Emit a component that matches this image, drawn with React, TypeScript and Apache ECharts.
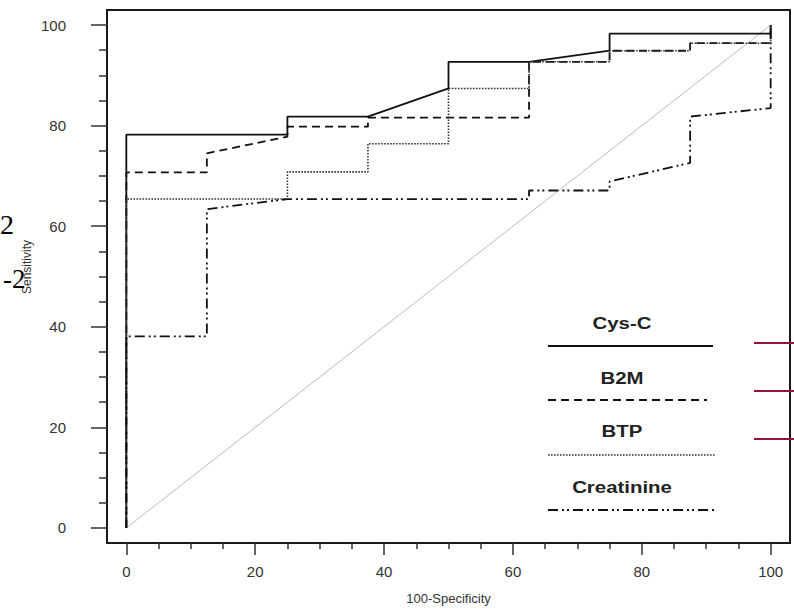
import React, { useEffect, useRef } from "react";
import * as echarts from "echarts";

// ---- data ----
const xMajorTicks = [0, 20, 40, 60, 80, 100];
const xMinorTicks = [5, 10, 15, 25, 30, 35, 45, 50, 55, 65, 70, 75, 85, 90, 95];
const yMajorTicks = [0, 20, 40, 60, 80, 100];
const yMinorTicks = [5, 10, 15, 25, 30, 35, 45, 50, 55, 65, 70, 75, 85, 90, 95];

const seriesNames = ["Cys-C", "B2M", "BTP", "Creatinine"];

const cysC = [
  [0, 0], [0, 78.2], [25, 78.2], [25, 81.8], [37.5, 81.8], [50, 87.4], [50, 92.7],
  [62.5, 92.7], [75, 94.9], [75, 98.3], [100, 98.3], [100, 100],
];
const b2m = [
  [0, 0], [0, 70.7], [12.5, 70.7], [12.5, 74.5], [25, 77.8], [25, 79.8], [37.5, 79.8],
  [37.5, 81.6], [62.5, 81.6], [62.5, 92.7], [75, 92.7], [75, 94.9], [87.5, 94.9],
  [87.5, 96.4], [100, 96.4], [100, 100],
];
const btp = [
  [0, 0], [0, 65.4], [25, 65.4], [25, 70.8], [37.5, 70.8], [37.5, 76.4], [50, 76.4],
  [50, 87.4], [62.5, 87.4], [62.5, 92.7], [75, 92.7], [75, 94.9], [87.5, 94.9],
  [87.5, 96.4], [100, 96.4], [100, 100],
];
const creatinine = [
  [0, 0], [0, 38.1], [12.5, 38.1], [12.5, 63.4], [25, 65.4], [62.5, 65.4], [62.5, 67.1],
  [75, 67.1], [75, 68.9], [87.5, 72.6], [87.5, 81.8], [100, 83.5], [100, 96.4], [100, 100],
];
const reference = [[0, 0], [100, 100]];

const xTitle = "100-Specificity";
const yTitle = "Sensitivity";

const FONT = "'Liberation Sans', Arial, sans-serif";
const SERIF = "'Liberation Serif', 'DejaVu Serif', serif";

const dashes: any[] = ["solid", [8, 5], [1.6, 1.4], [10, 4, 2, 3, 2, 4]];
const widths = [1.8, 1.8, 1.6, 1.8];
const colors = ["#111", "#111", "#333", "#111"];

export default function App() {
  const ref = useRef<HTMLDivElement>(null);

  useEffect(() => {
    if (!ref.current) return;
    const chart = echarts.init(ref.current, null, { renderer: "svg" });

    const tickStyle = { color: "#333", width: 1.5 };
    const axisLineStyle = { color: "#1a1a1a", width: 2 };
    const labelStyle = { fontSize: 15, color: "#333", fontFamily: FONT };

    const data = [cysC, b2m, btp, creatinine];

    const legendYs = [[323, 346, 713], [378, 400, 707], [431, 455, 715], [487, 510, 715]];
    const legendGraphics: any[] = [];
    seriesNames.forEach((n, i) => {
      const [ty, ly, lx2] = legendYs[i];
      legendGraphics.push({
        type: "text",
        x: 622,
        y: ty,
        scaleX: 1.2,
        z: 50,
        style: {
          text: n,
          align: "center",
          verticalAlign: "middle",
          textAlign: "center",
          textVerticalAlign: "middle",
          fontSize: 17,
          fontWeight: "bold",
          fontFamily: FONT,
          fill: "#222",
        },
      });
      legendGraphics.push({
        type: "line",
        z: 50,
        shape: { x1: 548, y1: ly, x2: lx2, y2: ly },
        style: {
          stroke: colors[i],
          lineWidth: widths[i],
          lineDash: dashes[i] === "solid" ? null : dashes[i],
        },
      });
    });

    const option: any = {
      animation: false,
      backgroundColor: "#fff",
      grid: {
        left: 107,
        right: 4,
        top: 10,
        bottom: 66,
        show: true,
        borderColor: "#1a1a1a",
        borderWidth: 2,
        backgroundColor: "transparent",
      },
      xAxis: [
        {
          type: "value",
          min: -3,
          max: 103,
          position: "bottom",
          axisLine: { show: true, onZero: false, lineStyle: axisLineStyle },
          axisTick: { show: true, customValues: xMajorTicks, length: 12, lineStyle: tickStyle },
          axisLabel: { customValues: xMajorTicks, margin: 21, ...labelStyle },
          splitLine: { show: false },
          name: xTitle,
          nameLocation: "middle",
          nameGap: 49,
          nameTextStyle: { fontSize: 13, color: "#333", fontFamily: FONT },
        },
        {
          type: "value",
          min: -3,
          max: 103,
          position: "bottom",
          axisLine: { show: false, onZero: false },
          axisTick: { show: true, customValues: xMinorTicks, length: 6, lineStyle: tickStyle },
          axisLabel: { show: false },
          splitLine: { show: false },
        },
      ],
      yAxis: [
        {
          type: "value",
          min: -3,
          max: 103,
          position: "left",
          axisLine: { show: true, onZero: false, lineStyle: axisLineStyle },
          axisTick: { show: true, customValues: yMajorTicks, length: 16, lineStyle: tickStyle },
          axisLabel: { customValues: yMajorTicks, margin: 41, ...labelStyle },
          splitLine: { show: false },
        },
        {
          type: "value",
          min: -3,
          max: 103,
          position: "left",
          axisLine: { show: false, onZero: false },
          axisTick: { show: true, customValues: yMinorTicks, length: 8, lineStyle: tickStyle },
          axisLabel: { show: false },
          splitLine: { show: false },
        },
      ],
      series: [
        {
          type: "line",
          name: "reference",
          data: reference,
          symbol: "none",
          xAxisIndex: 0,
          yAxisIndex: 0,
          z: 1,
          lineStyle: { color: "#aaa", width: 0.8 },
        },
        ...seriesNames.map((n, i) => ({
          type: "line",
          name: n,
          data: data[i],
          symbol: "none",
          xAxisIndex: 0,
          yAxisIndex: 0,
          z: 2 + i,
          lineStyle: { color: colors[i], width: widths[i], type: dashes[i] },
        })),
      ],
      graphic: [
        ...legendGraphics,
        {
          type: "text",
          x: 27,
          y: 267,
          rotation: Math.PI / 2,
          z: 50,
          style: {
            text: yTitle,
            align: "center",
            verticalAlign: "middle",
            textAlign: "center",
            textVerticalAlign: "middle",
            fontSize: 12,
            fontFamily: FONT,
            fill: "#333",
          },
        },
        {
          type: "text",
          x: 0,
          y: 224,
          z: 60,
          style: {
            text: "2",
            align: "left",
            verticalAlign: "middle",
            textAlign: "left",
            textVerticalAlign: "middle",
            fontSize: 28,
            fontFamily: SERIF,
            fill: "#000",
          },
        },
        {
          type: "text",
          x: 3,
          y: 279,
          z: 60,
          style: {
            text: "-2",
            align: "left",
            verticalAlign: "middle",
            textAlign: "left",
            textVerticalAlign: "middle",
            fontSize: 27,
            fontFamily: SERIF,
            fill: "#000",
          },
        },
        ...[343, 391, 439].map((y) => ({
          type: "line",
          z: 60,
          shape: { x1: 754, y1: y, x2: 794, y2: y },
          style: { stroke: "#9b1040", lineWidth: 2 },
        })),
      ],
    };

    chart.setOption(option);
    return () => chart.dispose();
  }, []);

  return (
    <div
      ref={ref}
      style={{ position: "fixed", left: 0, top: 0, width: 794, height: 610, background: "#fff" }}
    />
  );
}
